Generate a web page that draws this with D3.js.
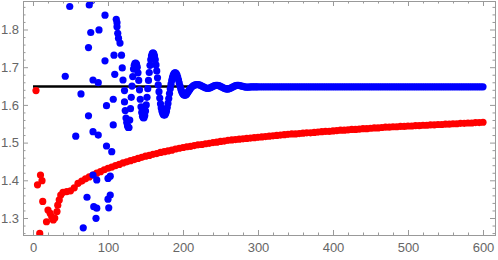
<!DOCTYPE html>
<html><head><meta charset="utf-8">
<script src="https://cdn.jsdelivr.net/npm/d3@7"></script>
<style>html,body{margin:0;padding:0;background:#fff;}svg{display:block;}</style>
</head><body>
<svg id="chart" width="498" height="260"></svg>
<script>
// ---- data ----
const xTicks = [0, 100, 200, 300, 400, 500, 600];
const yTicks = [1.3, 1.4, 1.5, 1.6, 1.7, 1.8];
const refValue = 1.6487;
const refRange = [0, 600];

const redEarlyN = [4, 6, 10, 12, 13, 9, 18, 20, 23, 25, 27, 29, 32, 33, 35, 37];
const redEarlyV = [1.638, 1.388, 1.414, 1.399, 1.344, 1.259, 1.290, 1.321, 1.312, 1.303, 1.295, 1.300, 1.317, 1.334, 1.348, 1.361];

const redN = d3.range(40, 601, 5);
const redV = [1.368,1.370,1.372,1.380,1.392,1.398,1.404,1.409,1.414,1.419,1.423,1.428,1.432,1.435,1.439,1.442,1.446,1.449,1.452,1.455,
1.458,1.461,1.464,1.466,1.469,1.471,1.474,1.476,1.478,1.480,1.483,1.485,1.487,1.489,1.490,1.492,1.494,1.495,1.497,1.498,
1.500,1.501,1.503,1.504,1.506,1.507,1.508,1.509,1.510,1.511,1.512,1.513,1.514,1.515,1.516,1.517,1.518,1.519,1.520,1.521,
1.522,1.523,1.523,1.524,1.525,1.526,1.526,1.527,1.528,1.529,1.530,1.530,1.531,1.532,1.533,1.533,1.534,1.535,1.535,1.536,
1.537,1.537,1.538,1.539,1.539,1.540,1.541,1.541,1.542,1.542,1.543,1.543,1.544,1.544,1.545,1.545,1.546,1.546,1.547,1.547,
1.548,1.548,1.549,1.549,1.550,1.550,1.551,1.551,1.552,1.552,1.553,1.553,1.554];

const blueScatterN = [43,49,57,64,67,72,74,74,75,77,78,80,80,80,81,84,85,85,87,87,88,96,96,98,98,100,100,101,103,103,105,
107,107,108,109,111,112,112,113,114,116,118,119,120,122,122,123,124,125,126,127];
const blueScatterV = [1.676,1.861,1.517,1.629,1.274,1.355,1.752,1.571,1.865,1.792,1.876,1.666,1.529,1.414,1.330,1.299,1.401,1.326,1.659,1.520,1.799,1.838,1.717,1.598,1.491,1.405,1.350,1.327,1.411,1.361,1.476,
1.615,1.547,1.732,1.681,1.827,1.818,1.807,1.790,1.777,1.764,1.732,1.698,1.666,1.638,1.608,1.585,1.565,1.553,1.545,1.540];

const blueWaveN = d3.range(128, 211, 1).concat(d3.range(212, 301, 2));
const blueWaveV = [1.540,1.560,1.590,1.620,1.650,1.675,1.695,1.705,1.710,1.711,1.708,1.700,1.685,1.665,1.640,1.615,1.595,1.580,1.570,1.566,
1.566,1.572,1.584,1.600,1.620,1.643,1.665,1.686,1.705,1.720,1.730,1.736,1.738,1.736,1.730,1.720,1.706,1.690,1.672,1.653,
1.635,1.618,1.603,1.592,1.583,1.577,1.574,1.573,1.574,1.578,1.584,1.593,1.604,1.617,1.630,1.643,1.655,1.665,1.673,1.679,
1.683,1.685,1.685,1.683,1.679,1.673,1.666,1.658,1.650,1.643,1.637,1.632,1.629,1.627,1.626,1.626,1.627,1.629,1.632,1.635,
1.638,1.641,1.644,
1.648,1.651,1.653,1.654,1.654,1.653,1.651,1.649,1.647,1.645,1.644,1.644,1.645,1.647,1.649,1.651,1.652,1.652,1.651,1.649,
1.647,1.645,1.643,1.642,1.642,1.643,1.645,1.647,1.649,1.651,1.652,1.652,1.651,1.650,1.649,1.648,1.647,1.647,1.647,1.648,
1.648,1.648,1.648,1.648,1.648];

const blueFlatN = d3.range(303, 601, 3);
const blueFlatV = [1.648,1.648,1.648,1.648,1.648,1.648,1.648,1.648,1.648,1.648,
1.648,1.648,1.648,1.648,1.648,1.648,1.648,1.648,1.648,1.648,
1.648,1.648,1.648,1.648,1.648,1.648,1.648,1.648,1.648,1.648,
1.648,1.648,1.648,1.648,1.648,1.648,1.648,1.648,1.648,1.648,
1.648,1.648,1.648,1.648,1.648,1.648,1.648,1.648,1.648,1.648,
1.648,1.648,1.648,1.648,1.648,1.648,1.648,1.648,1.648,1.648,
1.648,1.648,1.648,1.648,1.648,1.648,1.648,1.648,1.648,1.648,
1.648,1.648,1.648,1.648,1.648,1.648,1.648,1.648,1.648,1.648,
1.648,1.648,1.648,1.648,1.648,1.648,1.648,1.648,1.648,1.648,
1.648,1.648,1.648,1.648,1.648,1.648,1.648,1.648,1.648,1.648];

// ---- layout ----
const L = 23, R = 495, T = 1, B = 235;
const x = d3.scaleLinear().domain([-13.33, 616]).range([L, R]);
const y = d3.scaleLinear().domain([1.2549, 1.8756]).range([B, T]);

const svg = d3.select("#chart");
const frameColor = "#999";
const labelColor = "#666";
const fontFam = "'Liberation Sans', Arial, sans-serif";

svg.append("defs").append("clipPath").attr("id", "clip")
  .append("rect").attr("x", L).attr("y", T).attr("width", R - L).attr("height", B - T);

const plot = svg.append("g").attr("clip-path", "url(#clip)");

function pairs(ns, vs) { return ns.map((n, i) => [n, vs[i]]).filter(d => d[1] !== undefined); }

// reference line
plot.append("line")
  .attr("x1", x(refRange[0])).attr("x2", x(refRange[1]))
  .attr("y1", y(refValue)).attr("y2", y(refValue))
  .attr("stroke", "#000").attr("stroke-width", 2.6);

const rad = 3.6;
const red = pairs(redEarlyN, redEarlyV).concat(pairs(redN, redV));
plot.append("g").selectAll("circle").data(red).join("circle")
  .attr("cx", d => x(d[0])).attr("cy", d => y(d[1])).attr("r", rad).attr("fill", "#ff0000");

const blue = pairs(blueScatterN, blueScatterV).concat(pairs(blueWaveN, blueWaveV)).concat(pairs(blueFlatN, blueFlatV));
plot.append("g").selectAll("circle").data(blue).join("circle")
  .attr("cx", d => x(d[0])).attr("cy", d => y(d[1])).attr("r", rad).attr("fill", "#0000ff");

// ---- frame & ticks ----
const xMinor = d3.range(0, 601, 20).filter(v => v % 100 !== 0);
const yMinor = d3.range(1.26, 1.87, 0.02).map(v => +v.toFixed(2)).filter(v => !yTicks.some(t => Math.abs(t - v) < 1e-6));

function styleAxis(g) {
  g.select(".domain").remove();
  g.selectAll("line").attr("stroke", frameColor);
  g.selectAll("text").attr("fill", labelColor).style("font-family", fontFam).style("font-size", "13px");
}

svg.append("g").attr("transform", `translate(0,${B})`)
  .call(d3.axisBottom(x).tickValues(xTicks).tickSize(-5).tickPadding(8).tickFormat(d3.format("d"))).call(styleAxis);
svg.append("g").attr("transform", `translate(0,${B})`)
  .call(d3.axisBottom(x).tickValues(xMinor).tickSize(-2.5).tickFormat("")).call(styleAxis);
svg.append("g").attr("transform", `translate(0,${T})`)
  .call(d3.axisTop(x).tickValues(xTicks).tickSize(-5).tickFormat("")).call(styleAxis);
svg.append("g").attr("transform", `translate(0,${T})`)
  .call(d3.axisTop(x).tickValues(xMinor).tickSize(-2.5).tickFormat("")).call(styleAxis);

svg.append("g").attr("transform", `translate(${L},0)`)
  .call(d3.axisLeft(y).tickValues(yTicks).tickSize(-5).tickPadding(4).tickFormat(d3.format(".1f"))).call(styleAxis);
svg.append("g").attr("transform", `translate(${L},0)`)
  .call(d3.axisLeft(y).tickValues(yMinor).tickSize(-2.5).tickFormat("")).call(styleAxis);
svg.append("g").attr("transform", `translate(${R},0)`)
  .call(d3.axisRight(y).tickValues(yTicks).tickSize(-5).tickFormat("")).call(styleAxis);
svg.append("g").attr("transform", `translate(${R},0)`)
  .call(d3.axisRight(y).tickValues(yMinor).tickSize(-2.5).tickFormat("")).call(styleAxis);

svg.append("rect").attr("x", L).attr("y", T).attr("width", R - L).attr("height", B - T)
  .attr("fill", "none").attr("stroke", frameColor).attr("stroke-width", 1).attr("shape-rendering", "crispEdges");
</script>
</body></html>
